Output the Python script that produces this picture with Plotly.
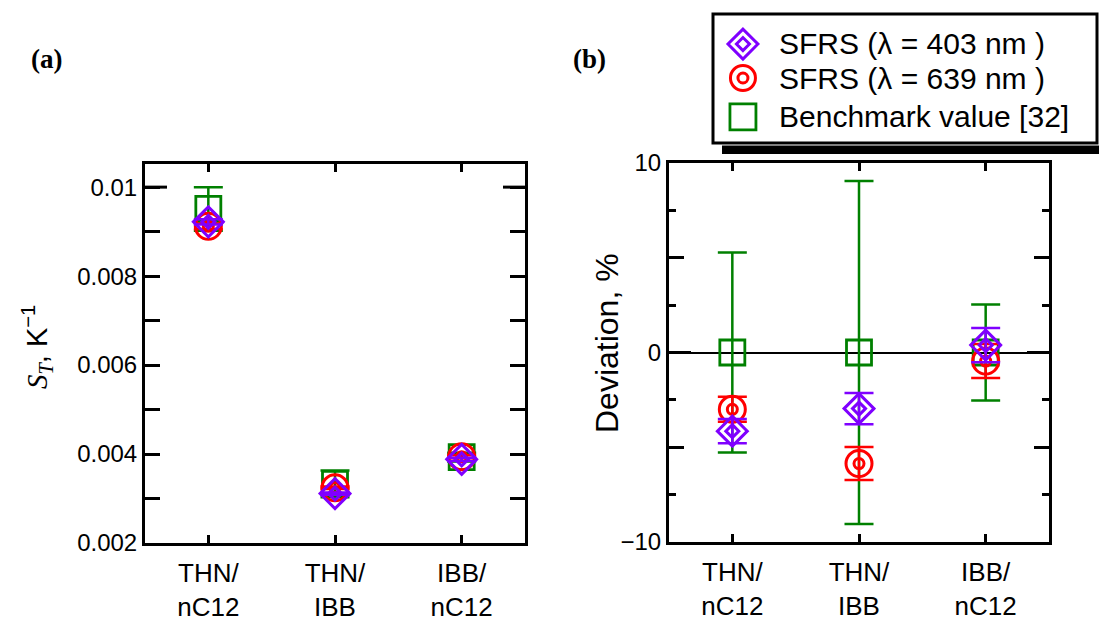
import plotly.graph_objects as go

# Mixtures (x categories)
categories = ["THN/<br>nC12", "THN/<br>IBB", "IBB/<br>nC12"]
xpos = [0, 1, 2]

# Panel (a): Soret coefficient S_T, 1/K
st_403 = [0.00922, 0.00311, 0.00388]
st_403_err = [0.00006, 0.000025, 0.000035]
st_639 = [0.00912, 0.00324, 0.00394]
st_639_err = [0.00006, 0.000028, 0.000035]
st_bench = [0.00951, 0.00333, 0.00393]
st_bench_err = [0.00049, 0.00030, 0.00010]

# Panel (b): deviation from benchmark, %
dev_403 = [-4.15, -2.96, 0.39]
dev_403_err = [0.64, 0.82, 0.90]
dev_639 = [-3.0, -5.86, -0.45]
dev_639_err = [0.66, 0.87, 0.90]
dev_bench = [0.0, 0.0, 0.0]
dev_bench_err = [5.28, 9.05, 2.53]

legend_names = ["SFRS (λ = 403 nm )", "SFRS (λ = 639 nm )", "Benchmark value [32]"]

PURPLE = "#7f00ff"
RED = "#ff0000"
GREEN = "#008000"
FONT = "Liberation Sans"
SERIF = "Liberation Serif"
W, H = 1099, 621

fig = go.Figure()


def add_series(xa, ya, y, err, color, kind):
    common = dict(x=xpos, xaxis=xa, yaxis=ya, mode="markers", showlegend=False,
                  hoverinfo="skip")
    ebar = dict(type="data", array=err, visible=True, color=color,
                thickness=2.5, width=14.5)
    if kind == "square":
        fig.add_trace(go.Scatter(y=y, error_y=ebar,
                                 marker=dict(symbol="square-open", size=25, color=color,
                                             line=dict(width=2.8, color=color)), **common))
    elif kind == "circle":
        fig.add_trace(go.Scatter(y=y, error_y=ebar,
                                 marker=dict(symbol="circle-open", size=26, color=color,
                                             line=dict(width=3, color=color)), **common))
        fig.add_trace(go.Scatter(y=y,
                                 marker=dict(symbol="circle-open", size=10, color=color,
                                             line=dict(width=3, color=color)), **common))
    else:
        fig.add_trace(go.Scatter(y=y, error_y=ebar,
                                 marker=dict(symbol="diamond-open", size=23, color=color,
                                             line=dict(width=3, color=color)), **common))
        fig.add_trace(go.Scatter(y=y,
                                 marker=dict(symbol="diamond-open", size=10, color=color,
                                             line=dict(width=3, color=color)), **common))


# panel (a)
add_series("x", "y", st_bench, st_bench_err, GREEN, "square")
add_series("x", "y", st_639, st_639_err, RED, "circle")
add_series("x", "y", st_403, st_403_err, PURPLE, "diamond")
# panel (b)
add_series("x2", "y2", dev_bench, dev_bench_err, GREEN, "square")
add_series("x2", "y2", dev_639, dev_639_err, RED, "circle")
add_series("x2", "y2", dev_403, dev_403_err, PURPLE, "diamond")

# legend swatches on their own hidden axes
leg_rows = [0.767, 0.504, 0.202]
leg_x = 0.078
leg_common = dict(xaxis="x3", yaxis="y3", mode="markers", showlegend=False, hoverinfo="skip")
fig.add_trace(go.Scatter(x=[leg_x], y=[leg_rows[0]], marker=dict(symbol="diamond-open", size=23, color=PURPLE, line=dict(width=3, color=PURPLE)), **leg_common))
fig.add_trace(go.Scatter(x=[leg_x], y=[leg_rows[0]], marker=dict(symbol="diamond-open", size=10, color=PURPLE, line=dict(width=3, color=PURPLE)), **leg_common))
fig.add_trace(go.Scatter(x=[leg_x], y=[leg_rows[1]], marker=dict(symbol="circle-open", size=25, color=RED, line=dict(width=3, color=RED)), **leg_common))
fig.add_trace(go.Scatter(x=[leg_x], y=[leg_rows[1]], marker=dict(symbol="circle-open", size=10, color=RED, line=dict(width=3, color=RED)), **leg_common))
fig.add_trace(go.Scatter(x=[leg_x], y=[leg_rows[2]], marker=dict(symbol="square-open", size=26, color=GREEN, line=dict(width=2.8, color=GREEN)), **leg_common))

axis_common = dict(showline=True, linecolor="black", linewidth=3, mirror="allticks",
                   ticks="inside", tickcolor="black", tickwidth=3, showgrid=False,
                   automargin=False,
                   tickfont=dict(family=FONT, size=24, color="black"))

xa = dict(axis_common, range=[-0.5, 2.5], tickvals=xpos, ticktext=categories, ticklen=8,
          zeroline=False, ticklabelstandoff=5,
          tickfont=dict(family=FONT, size=26, color="black"))

st_ticks = [0.002, 0.003, 0.004, 0.005, 0.006, 0.007, 0.008, 0.009, 0.01]
st_text = ["0.002", " ", "0.004", " ", "0.006", " ", "0.008", " ", "0.01"]
dev_ticks = [-10, -5, 0, 5, 10]
dev_text = ["−10", " ", "0", " ", "10"]

fig.update_layout(
    width=W, height=H, margin=dict(l=0, r=0, t=0, b=0, autoexpand=False),
    paper_bgcolor="white", plot_bgcolor="white",
    xaxis=dict(xa, domain=[145 / W, 525 / W], anchor="y"),
    yaxis=dict(axis_common, domain=[78 / H, 457 / H], range=[0.002, 0.01052],
               tickvals=st_ticks, ticktext=st_text, ticklen=15, zeroline=False, anchor="x"),
    xaxis2=dict(xa, domain=[669 / W, 1049 / W], anchor="y2"),
    yaxis2=dict(axis_common, domain=[79 / H, 458 / H], range=[-10, 10],
                tickvals=dev_ticks, ticktext=dev_text, ticklen=15,
                minor=dict(tickvals=[-7.5, -2.5, 2.5, 7.5], ticks="inside", ticklen=7,
                           tickwidth=3, tickcolor="black"),
                zeroline=True, zerolinecolor="black", zerolinewidth=1.5, anchor="x2"),
    xaxis3=dict(domain=[713 / W, 1097 / W], range=[0, 1], visible=False, anchor="y3"),
    yaxis3=dict(domain=[(H - 143) / H, (H - 14) / H], range=[0, 1], visible=False, anchor="x3"),
)

shapes = [
    # longer ticks at 0.01 (panel a) and at 0 (panel b)
    dict(type="line", xref="x domain", yref="y", x0=0, x1=22 / 380, y0=0.01, y1=0.01,
         line=dict(color="black", width=3)),
    dict(type="line", xref="x domain", yref="y", x0=1 - 22 / 380, x1=1, y0=0.01, y1=0.01,
         line=dict(color="black", width=3)),
    dict(type="line", xref="x2 domain", yref="y2", x0=0, x1=22 / 380, y0=0, y1=0,
         line=dict(color="black", width=3)),
    dict(type="line", xref="x2 domain", yref="y2", x0=1 - 22 / 380, x1=1, y0=0, y1=0,
         line=dict(color="black", width=3)),
    # legend frame and its shadow
    dict(type="rect", xref="paper", yref="paper", x0=722 / W, x1=1110 / W,
         y0=(H - 154) / H, y1=(H - 145.5) / H, fillcolor="black", line=dict(width=0)),
    dict(type="rect", xref="paper", yref="paper", x0=713 / W, x1=1097 / W,
         y0=(H - 143) / H, y1=(H - 14) / H, fillcolor="rgba(0,0,0,0)",
         line=dict(color="black", width=3)),
]
fig.update_layout(shapes=shapes)

ann = [
    dict(x=46 / W, y=(H - 59) / H, text="<b>(a)</b>", font=dict(family=SERIF, size=27)),
    dict(x=589 / W, y=(H - 59) / H, text="<b>(b)</b>", font=dict(family=SERIF, size=27)),
    dict(x=37 / W, y=(H - 347) / H, textangle=-90,
         text='<span style="font-family:Liberation Serif"><i>S</i><sub><i>T</i></sub></span>, K<sup>−1</sup>',
         font=dict(family=FONT, size=29)),
    dict(x=607 / W, y=(H - 343) / H, textangle=-90, text="Deviation, %",
         font=dict(family=FONT, size=32)),
]
for i, name in enumerate(legend_names):
    ann.append(dict(x=777 / W, y=(H - [44, 78, 117][i]) / H, text=name, xanchor="left",
                    font=dict(family=FONT, size=30)))
for a in ann:
    a.setdefault("xref", "paper")
    a.setdefault("yref", "paper")
    a.setdefault("showarrow", False)
    a.setdefault("yanchor", "middle")
    a.setdefault("xanchor", "center")
    a["font"]["color"] = "black"
fig.update_layout(annotations=ann)

fig.write_html("out.html")
